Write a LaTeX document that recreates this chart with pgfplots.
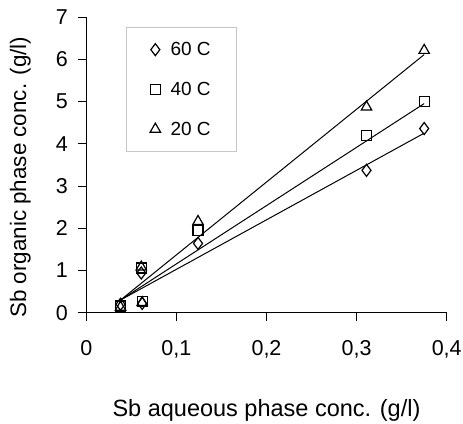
\documentclass[border=0pt]{standalone}
\usepackage{pgfplots}
\pgfplotsset{compat=1.18}
\usepackage{fontspec}
\setmainfont{Liberation Sans}
\begin{document}
\begin{tikzpicture}
\useasboundingbox (-86.3pt,-111pt) rectangle (376.7pt,312.7pt);
\begin{axis}[
  at={(0,0)}, anchor=south west,
  width=360.4pt, height=295.7pt, scale only axis,
  xmin=0, xmax=0.4, ymin=0, ymax=7,
  axis x line*=bottom, axis y line*=left,
  axis line style={black, line width=0.7pt},
  xtick={0,0.1,0.2,0.3,0.4}, ytick={0,1,...,7},
  tick style={black, line width=0.7pt},
  major tick length=8pt, tick align=outside,
  tick label style={font=\fontsize{21.5}{26}\selectfont},
  /pgf/number format/assume math mode=true,
  /pgf/number format/use comma,
  xticklabel style={/pgf/number format/fixed, /pgf/number format/precision=1, yshift=-16pt},
  yticklabel style={xshift=-7pt},
  every axis x label/.style={at={(rel axis cs:0.5,0)}, anchor=base, yshift=-104pt,
    font=\fontsize{23.5}{28}\selectfont},
  every axis y label/.style={at={(rel axis cs:0,0.5)}, anchor=center, xshift=-66pt, yshift=-12.4pt, rotate=90,
    font=\fontsize{22.4}{27}\selectfont},
  xlabel={Sb aqueous phase conc. (g/l)},
  ylabel={Sb organic phase conc. (g/l)},
  legend style={at={(rel axis cs:0.11,0.966)}, anchor=north west,
    draw=gray!45, fill=white, font=\fontsize{19}{23}\selectfont,
    inner xsep=24pt, inner ysep=13pt, row sep=21pt, column sep=8pt},
  legend cell align=left,
  clip=false,
]
% 60 C
\addplot[only marks, mark=diamond, mark size=6pt, mark options={line width=1.2pt, fill=white}]
  coordinates {(0.038,0.20) (0.061,0.94) (0.062,0.22) (0.124,1.64) (0.311,3.37) (0.375,4.36)};
\addlegendentry{60 C}
% 40 C
\addplot[only marks, mark=square, mark size=5pt, mark options={line width=1.2pt, fill=white}]
  coordinates {(0.038,0.16) (0.061,1.06) (0.062,0.26) (0.124,1.94) (0.311,4.19) (0.375,5.00)};
\addlegendentry{40 C}
% 20 C
\addplot[only marks, mark=triangle, mark size=6pt, mark options={line width=1.2pt, fill=white}]
  coordinates {(0.038,0.13) (0.061,1.08) (0.062,0.24) (0.124,2.16) (0.311,4.87) (0.375,6.21)};
\addlegendentry{20 C}
% trend lines
\addplot[black, line width=1pt, forget plot] coordinates {(0.038,0.30) (0.375,4.25)};
\addplot[black, line width=1pt, forget plot] coordinates {(0.038,0.30) (0.375,4.95)};
\addplot[black, line width=1pt, forget plot] coordinates {(0.038,0.30) (0.375,6.11)};
\end{axis}
\end{tikzpicture}
\end{document}
